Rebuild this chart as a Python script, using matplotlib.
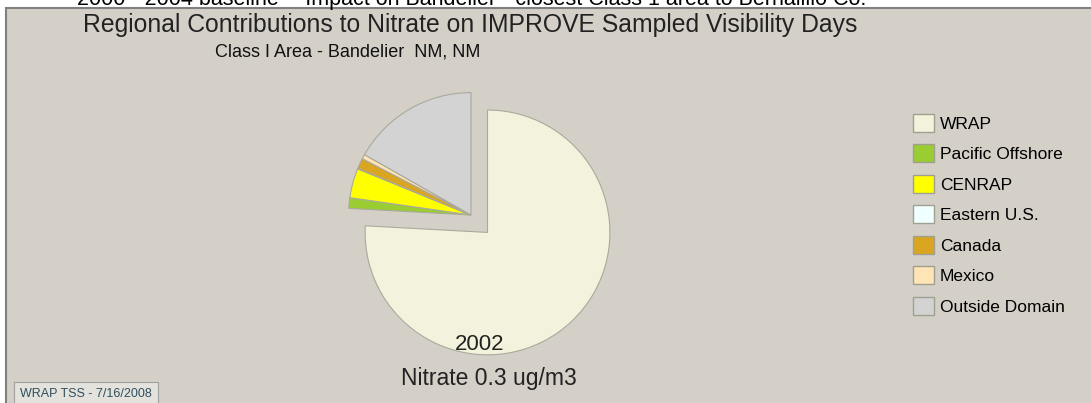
import matplotlib.pyplot as plt
from matplotlib.patches import Rectangle, Patch

plt.rcParams['font.family'] = ['Liberation Sans', 'DejaVu Sans']

regions = ['WRAP', 'Pacific Offshore', 'CENRAP', 'Eastern U.S.', 'Canada', 'Mexico', 'Outside Domain']
shares = [75.9, 1.4, 3.9, 0.05, 1.4, 0.6, 16.8]
colors = ['#f3f3dd', '#9acd32', '#ffff00', '#f0ffff', '#daa520', '#ffe4b5', '#d3d3d3']
explode = [0.2, 0, 0, 0, 0, 0, 0]

header = '2000 - 2004 baseline -- Impact on Bandelier - closest Class 1 area to Bernalillo Co.'
title = 'Regional Contributions to Nitrate on IMPROVE Sampled Visibility Days'
subtitle = 'Class I Area - Bandelier  NM, NM'
year = '2002'
total = 'Nitrate 0.3 ug/m3'
stamp = 'WRAP TSS - 7/16/2008'

W, H = 1091, 403
bg = '#d4d0c8'

fig = plt.figure(figsize=(W / 100, H / 100), dpi=100, facecolor='white')


def fx(px):
    return px / W


def fy(py):
    # py measured from the top
    return 1 - py / H


# panel behind everything
fig.patches.append(Rectangle((fx(6), -0.05), 1, fy(8) + 0.05, transform=fig.transFigure,
                             facecolor=bg, edgecolor='#808080', lw=1.5, zorder=-5))

# pie axes, radius 1 = 120 px, centre at (471, 215)
r = 120
cx, cy = 471, 215
ax = fig.add_axes([0, 0, 1, 1], zorder=2)
ax.set_facecolor('none')
ax.pie(shares, colors=colors, explode=explode, startangle=90, counterclock=False,
       radius=1.02, wedgeprops=dict(edgecolor='#a9a99c', linewidth=0.8))
ax.set_xlim(-cx / r, (W - cx) / r)
ax.set_ylim(-(H - cy) / r, cy / r)
ax.set_aspect('auto')
ax.axis('off')

# header line is clipped by the top edge, as in the original screenshot
fig.text(fx(472), fy(5), header, ha='center', va='baseline', fontsize=15.5, color='black')
fig.text(fx(470), fy(25), title, ha='center', va='center', fontsize=17.8, color='#222222')
fig.text(fx(348), fy(52), subtitle, ha='center', va='center', fontsize=13, color='#111111')
fig.text(fx(480), fy(345), year, ha='center', va='center', fontsize=16, color='#222222')
fig.text(fx(489), fy(378), total, ha='center', va='center', fontsize=16.5, color='#222222')

handles = [Patch(facecolor=c, edgecolor='#a0a090', lw=1) for c in colors]
fig.legend(handles, regions, loc='upper left', bbox_to_anchor=(fx(913), fy(114)),
           frameon=False, fontsize=12.5, handlelength=1.2, handleheight=1.2,
           labelspacing=0.73, handletextpad=0.35, borderpad=0, borderaxespad=0)

fig.text(fx(20), fy(394), stamp, ha='left', va='center', fontsize=9, color='#2f4f5f',
         bbox=dict(boxstyle='square,pad=0.5', facecolor='#e4e2dc', edgecolor='#a0a0a0', lw=0.8))

fig.savefig('out.png', dpi=100, facecolor='white')
